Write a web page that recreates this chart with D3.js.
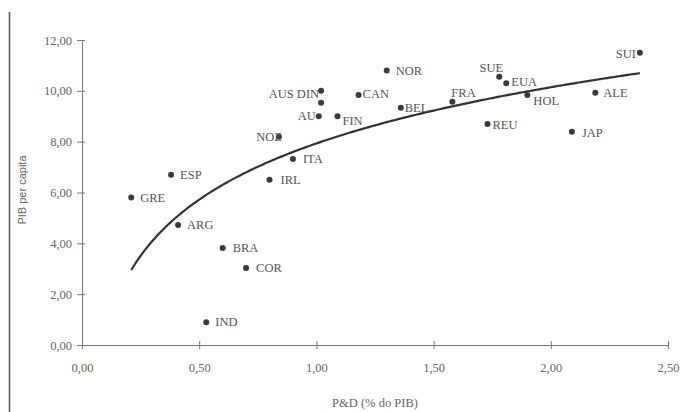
<!DOCTYPE html>
<html lang="pt">
<head>
<meta charset="utf-8">
<title>P&amp;D x PIB per capita</title>
<script src="https://cdnjs.cloudflare.com/ajax/libs/d3/7.8.5/d3.min.js"></script>
<style>
  body { margin: 0; background: #fff; }
  svg { display: block; font-family: "Liberation Serif", "DejaVu Serif", serif; }
</style>
</head>
<body>
<svg id="chart" width="684" height="412"></svg>
<script>
// country codes, P&D (% of PIB) and PIB per capita
var countries = ["GRE","ESP","ARG","BRA","COR","IND","IRL","ITA","NOZ","AU","AUS DIN","AUS2","FIN","CAN","NOR","BEL","FRA","SUE","EUA","HOL","REU","JAP","ALE","SUI"];
var pd   = [0.21, 0.38, 0.41, 0.60, 0.70, 0.53, 0.80, 0.90, 0.84, 1.01, 1.02, 1.02, 1.09, 1.18, 1.30, 1.36, 1.58, 1.78, 1.81, 1.90, 1.73, 2.09, 2.19, 2.38];
var pib  = [5.80, 6.70, 4.72, 3.82, 3.03, 0.90, 6.50, 7.32, 8.19, 9.00, 10.00, 9.53, 9.00, 9.84, 10.80, 9.33, 9.57, 10.55, 10.30, 9.84, 8.70, 8.39, 9.92, 11.50];

var xTicks = [0, 0.5, 1, 1.5, 2, 2.5];
var yTicks = [0, 2, 4, 6, 8, 10, 12];

// logarithmic trend line y = a + b ln(x), as drawn
var trendA = 7.93, trendB = 3.19;
var trendFrom = 0.21, trendTo = 2.38;

// label placement: [dx, dy, anchor]
var labelPos = {
  "GRE": [9, 4, "start"], "ESP": [9, 4, "start"], "ARG": [9, 4, "start"],
  "BRA": [10, 4, "start"], "COR": [10, 4, "start"], "IND": [9, 4, "start"],
  "IRL": [11, 4, "start"], "ITA": [10, 4, "start"], "NOZ": [3, 4, "end"],
  "AU": [-3, 4, "end"], "AUS DIN": [-2, 7, "end"], "FIN": [5, 9, "start"],
  "CAN": [4, 3, "start"], "NOR": [9, 4, "start"], "BEL": [4, 4, "start"],
  "FRA": [-1, -5, "start"], "SUE": [4, -5, "end"], "EUA": [5, 3, "start"],
  "HOL": [6, 10, "start"], "REU": [5, 5, "start"], "JAP": [10, 5, "start"],
  "ALE": [8, 4, "start"], "SUI": [-4, 5, "end"]
};

var svg = d3.select("#chart");
var x = d3.scaleLinear().domain([0, 2.5]).range([82, 668]);
var y = d3.scaleLinear().domain([0, 12]).range([345, 40]);
var fmt = function(v) { return d3.format(".2f")(v).replace(".", ","); };

// frame line at left (scanned figure border)
svg.append("line").attr("x1", 9.5).attr("x2", 9.5).attr("y1", 12).attr("y2", 412)
  .attr("stroke", "#555").attr("stroke-width", 1.5);

var xAxis = svg.append("g").attr("transform", "translate(0,345)")
  .call(d3.axisBottom(x).tickValues(xTicks).tickFormat(fmt).tickSizeOuter(0).tickSize(4).tickPadding(14));
xAxis.selectAll(".tick line").attr("y1", -4).attr("y2", 4);

var yAxis = svg.append("g").attr("transform", "translate(82,0)")
  .call(d3.axisLeft(y).tickValues(yTicks).tickFormat(fmt).tickSizeOuter(0).tickSize(5).tickPadding(5));
yAxis.selectAll(".tick line").attr("x1", -5).attr("x2", 3);

svg.selectAll(".domain, .tick line").attr("stroke", "#777");
svg.selectAll(".tick text").attr("fill", "#666").style("font-size", "12.5px")
  .style("font-family", "'Liberation Serif', serif");

svg.append("text").attr("transform", "translate(26,190) rotate(-90)")
  .attr("text-anchor", "middle").attr("fill", "#666")
  .style("font-family", "'Liberation Sans', sans-serif").style("font-size", "11px")
  .text("PIB per capita");

svg.append("text").attr("x", 375).attr("y", 407).attr("text-anchor", "middle")
  .attr("fill", "#666").style("font-size", "12.5px").text("P&D (% do PIB)");

// trend curve
var curveX = d3.range(trendFrom, trendTo + 0.001, 0.01);
svg.append("path")
  .datum(curveX)
  .attr("fill", "none").attr("stroke", "#333").attr("stroke-width", 2.2)
  .attr("d", d3.line().x(function(d) { return x(d); })
                      .y(function(d) { return y(trendA + trendB * Math.log(d)); }));

var pts = countries.map(function(c, i) { return { c: c, x: pd[i], y: pib[i] }; });

svg.append("g").selectAll("circle").data(pts).enter().append("circle")
  .attr("cx", function(d) { return x(d.x); })
  .attr("cy", function(d) { return y(d.y); })
  .attr("r", 3).attr("fill", "#3a3a3a");

svg.append("g").selectAll("text").data(pts.filter(function(d) { return labelPos[d.c]; }))
  .enter().append("text")
  .attr("x", function(d) { return x(d.x) + labelPos[d.c][0]; })
  .attr("y", function(d) { return y(d.y) + labelPos[d.c][1]; })
  .attr("text-anchor", function(d) { return labelPos[d.c][2]; })
  .attr("fill", "#555").style("font-size", "12.5px")
  .text(function(d) { return d.c; });
</script>
</body>
</html>
